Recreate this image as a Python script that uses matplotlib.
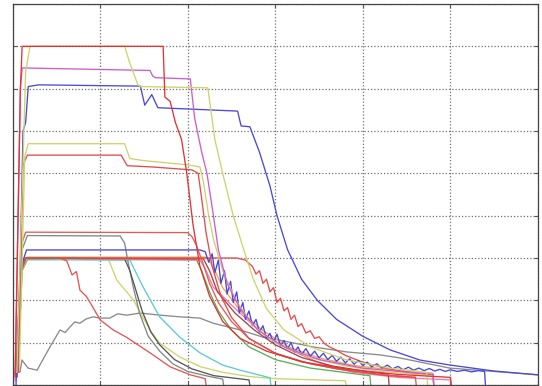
import numpy as np
import matplotlib
matplotlib.use("Agg")
import matplotlib.pyplot as plt

# --- curves (x: 0..60, y: 0..90) ---
red_top_x = [0.3, 0.9, 1.1, 17.2, 17.4, 18.0, 18.6, 19.3, 19.9, 20.6, 21.4, 22.5, 24, 26, 29, 33, 38, 44, 50, 50.1]
red_top_y = [2, 70, 80, 80, 68, 67, 62, 58, 50, 38, 28, 21, 15, 11, 8, 5.5, 3.8, 2.5, 1.8, 0]

ylw_top_x = [0.5, 1.5, 2.0, 12.8, 13.4, 14.3, 14.6, 22.3, 23.1, 24.0, 25.2, 26.4, 27.5, 29, 31, 34, 38, 43, 47.3, 47.4]
ylw_top_y = [3, 74, 80, 80, 76, 71, 70.5, 70.2, 58, 50, 40, 32, 25, 18, 13, 9, 6, 4, 3, 0]

mag_x = [0.3, 0.9, 1.1, 15.7, 16.0, 16.3, 20.3, 20.8, 21.6, 22.2, 22.9, 23.5, 24.5, 26, 28, 31, 35, 40, 45, 48, 48.1]
mag_y = [1, 70, 74.9, 74.3, 73, 72.6, 72.3, 63, 55, 50, 40.6, 32, 24, 18, 13, 9, 6, 4, 3, 2.5, 0]

blue_top_x = [0.4, 0.9, 1.2, 1.5, 1.8, 3, 14.6, 15.1, 15.9, 16.6, 20, 25.7, 26.1, 27.1, 28.2, 29.4, 30.2, 31.4,
              33, 34.8, 37, 40, 43.1, 46.5, 50, 55, 60]
blue_top_y = [0, 30, 60, 62, 70.5, 70.9, 70.6, 66.1, 68.6, 65.5, 65.2, 64.7, 61.2, 61, 55, 47, 40, 32,
              25, 20, 15.5, 11.5, 8.3, 5.9, 4.7, 3.3, 2.4]

ylw_mid_x = [0.8, 1.4, 1.8, 12.8, 13.4, 15, 20, 21.4, 21.8, 22.4, 23, 24, 25.5, 27.5, 30, 34, 38, 42, 48, 48.1]
ylw_mid_y = [5, 54, 57, 57, 53.5, 53, 52, 51.5, 48, 40, 34, 27, 20, 14, 10, 6.5, 4.5, 3.2, 2.2, 0]

red_mid_x = [0.7, 1.2, 1.7, 12.4, 13.1, 16, 20.5, 21.2, 21.6, 22.1, 22.8, 23.8, 25, 27, 30, 34, 38, 43, 46]
red_mid_y = [3, 52, 54.3, 54.3, 51.8, 51.5, 50.8, 50, 44, 36, 28, 21, 16, 11, 7.5, 5, 3.5, 2.2, 1.8]

red_low_x = [0.5, 1.0, 1.5, 20, 20.5, 21, 21.7, 22.5, 23.5, 25, 27, 30, 33, 37, 42, 46, 46.1]
red_low_y = [2, 33, 36.1, 36, 35, 33, 29, 24, 19.5, 15, 11, 7.5, 5.5, 3.8, 2.5, 1.8, 0]

gray_a_x = [0.6, 1.1, 1.7, 12.3, 12.8, 13.2, 13.8, 14.5, 15.5, 16.8, 18.3, 20, 22.5, 24.0, 24.1]
gray_a_y = [3, 32, 35.3, 35.2, 33.5, 29, 23, 17, 11.5, 8, 5, 3.2, 2, 1.4, 0]

gray_b_x = [0.5, 1.0, 1.5, 12.8, 13.4, 14.0, 14.8, 15.8, 16.8, 18.5, 20.5, 23, 27.0, 27.1]
gray_b_y = [2, 27, 30, 29.8, 27, 23, 17.5, 12.5, 9.5, 6, 3.8, 2.2, 1.2, 0]

blue_mid_x = [0.5, 1.0, 1.6, 21.0, 21.4, 22.0, 22.4, 22.8, 23.1, 23.5, 23.8, 24.2, 24.5, 24.9, 25.2, 25.6, 25.9,
              26.3, 26.6, 27.0, 27.4, 27.8, 28.2, 28.6, 29.0, 29.4, 29.8, 30.2, 30.6, 31.0, 31.4, 31.8, 32.2,
              32.6, 33.0, 33.5, 34.0, 34.5, 35.0, 35.5, 36.0, 36.5, 37.0, 37.5, 38.0, 38.5, 39.0, 39.5, 40.0,
              40.5, 41.0, 41.6, 42.2, 42.8, 43.4, 44.0, 44.6, 45.2, 45.8, 46.4, 47.0, 47.6, 48.2, 48.8, 49.4,
              50.0, 50.8, 51.6, 52.4, 53.2, 53.9, 54.0]
blue_mid_y = [2, 28, 31.9, 31.9, 31.9, 31.5, 29.0, 31.0, 26.5, 29.5, 24.0, 27.0, 21.5, 24.5, 19.5, 22.0, 17.0,
              19.5, 15.5, 17.5, 14.0, 15.5, 12.5, 14.0, 11.0, 12.2, 10.0, 12.0, 9.2, 10.5, 8.6, 10.0, 7.8,
              9.0, 7.2, 8.6, 6.8, 8.0, 6.4, 7.5, 6.0, 7.0, 5.6, 6.6, 5.2, 6.2, 4.9, 5.8, 4.6,
              5.4, 4.3, 5.0, 4.0, 4.7, 3.8, 4.4, 3.6, 4.2, 3.5, 4.0, 3.4, 3.9, 3.3, 3.7, 3.2,
              3.6, 3.2, 3.5, 3.1, 3.4, 3.2, 0]

red_noisy_x = [0.5, 1.0, 1.5, 25.6, 26.6, 27.4, 27.8, 28.2, 28.6, 29.0, 29.4, 29.8, 30.2, 30.6, 31.0, 31.4, 31.8,
               32.2, 32.6, 33.0, 33.5, 34.0, 34.5, 35.0, 35.6, 36.2, 37.0, 38, 39, 40, 41, 42, 43, 44, 45, 46,
               47, 48, 48.1]
red_noisy_y = [2, 27, 30, 30, 29.5, 28, 26.2, 27, 24, 25, 22, 23, 19.5, 20.5, 17.5, 18.3, 15.5,
               16.5, 13.8, 14.5, 12.3, 12.8, 11, 11.4, 9.8, 9, 8.2, 7, 6.2, 5.4, 4.8, 4.3, 3.8, 3.4, 3.1, 2.8,
               2.6, 2.4, 0]

red_thin_x = [0.4, 0.9, 1.5, 5.4, 6.2, 6.8, 7.3, 7.7, 8.4, 9.0, 10.0, 11.5, 13.0, 15.7, 18.0, 20.3, 22.0, 22.1]
red_thin_y = [2, 27, 30, 30, 29.3, 26.0, 26.8, 22.4, 21.0, 19.0, 15.4, 13.0, 11.3, 7.6, 4.3, 2.4, 1.5, 0]

ylw_low_x = [0.5, 1.0, 1.6, 10.9, 11.9, 13.8, 15.7, 16.8, 19.1, 21.5, 24, 27, 30, 38, 38.1]
ylw_low_y = [2, 27, 30, 30, 24.8, 20.1, 13, 9.9, 6.6, 4.3, 3, 2, 1.5, 1.0, 0]

cyan_x = [0.5, 1.0, 1.6, 13.4, 14.9, 16.8, 19.1, 21.4, 24.0, 26.0, 29.4, 29.5]
cyan_y = [2, 27, 29.8, 29.5, 23.2, 16.1, 11.3, 7.6, 4.7, 3.5, 1.7, 0]

green_x = [0.6, 1.1, 1.7, 21.0, 21.6, 22.5, 23.5, 25, 27, 30, 34, 40.8, 40.9]
green_y = [3, 27, 29.6, 29.6, 27, 22, 17.5, 13, 9, 6, 4, 2.2, 0]

pink_x = [0.5, 1.0, 1.5, 21.4, 22.0, 22.9, 24.8, 26.8, 29.1, 31.7, 35.1, 38.9, 44, 50, 50.1]
pink_y = [2, 27, 30, 29.5, 27.5, 23.2, 19.3, 15.4, 11.3, 8.3, 5.2, 3.0, 1.8, 1.2, 0]

dred_x = [0.5, 1.0, 1.5, 21.8, 22.5, 23.4, 25.4, 27.6, 30.0, 33, 36.5, 41, 42.9, 43.0]
dred_y = [2, 27, 30, 29.8, 27, 22, 17, 13, 9.5, 6.5, 4.5, 3.0, 2.6, 0]

orange_x = [0.6, 1.1, 1.7, 22.2, 23.0, 24.0, 26.0, 28.5, 31.5, 35, 39, 44, 48.0, 48.1]
orange_y = [3, 27, 30.2, 30.2, 27.5, 23, 17.5, 13, 9, 6.4, 4.6, 3.4, 2.8, 0]

gray_low_x = [0.06, 0.86, 1.08, 1.77, 2.8, 4.28, 5.42, 6.0, 6.56, 7.1, 7.7, 8.4, 9.19, 10.0, 11.1, 12.0, 13.07,
              14.55, 16.84, 19.12, 21.4, 22.9, 26.0, 28.6, 30.5, 34.3, 38.2, 42.0, 44.2, 49.9, 60]
gray_low_y = [2.8, 3.1, 5.9, 4.0, 3.5, 9.0, 13.0, 12.4, 13.7, 14.9, 14.6, 15.6, 16.1, 15.8, 15.8, 16.8, 16.5,
              17.0, 16.5, 16.1, 15.8, 14.6, 13.0, 11.3, 10.6, 9.0, 7.8, 7.1, 6.4, 4.0, 2.4]

lines = [
    (gray_low_x, gray_low_y, "#8a8a8a"),
    (green_x, green_y, "#5ab05a"),
    (orange_x, orange_y, "#eaa850"),
    (ylw_low_x, ylw_low_y, "#cdd46c"),
    (cyan_x, cyan_y, "#5ccbd2"),
    (gray_a_x, gray_a_y, "#7f8c7f"),
    (gray_b_x, gray_b_y, "#585858"),
    (red_thin_x, red_thin_y, "#e45656"),
    (pink_x, pink_y, "#f07aa6"),
    (dred_x, dred_y, "#a84444"),
    (red_noisy_x, red_noisy_y, "#e84c4c"),
    (blue_mid_x, blue_mid_y, "#4646e0"),
    (red_low_x, red_low_y, "#e45a5a"),
    (red_mid_x, red_mid_y, "#e44c4c"),
    (ylw_mid_x, ylw_mid_y, "#cdd46c"),
    (blue_top_x, blue_top_y, "#4a4ad8"),
    (mag_x, mag_y, "#cf5ccf"),
    (ylw_top_x, ylw_top_y, "#cdd46c"),
    (red_top_x, red_top_y, "#e23434"),
]

fig = plt.figure(figsize=(5.42, 3.86), dpi=100)
ax = fig.add_axes([12.5 / 542, 1 / 386, 525.5 / 542, 381 / 386])
for x, y, c in lines:
    ax.plot(x, y, color=c, lw=0.95)

ax.set_xlim(0, 60)
ax.set_ylim(0, 90)
ax.set_xticks(np.arange(0, 61, 10))
ax.set_yticks(np.arange(0, 91, 10))
ax.grid(True, color="#707070", linestyle=(0, (1, 1.6)), lw=0.9)
ax.tick_params(direction="in", length=3, top=True, right=True,
               labelleft=False, labelbottom=False, color="#555555")
for s in ax.spines.values():
    s.set_color("#444444")
    s.set_linewidth(0.9)

fig.savefig("out.png", dpi=100)
